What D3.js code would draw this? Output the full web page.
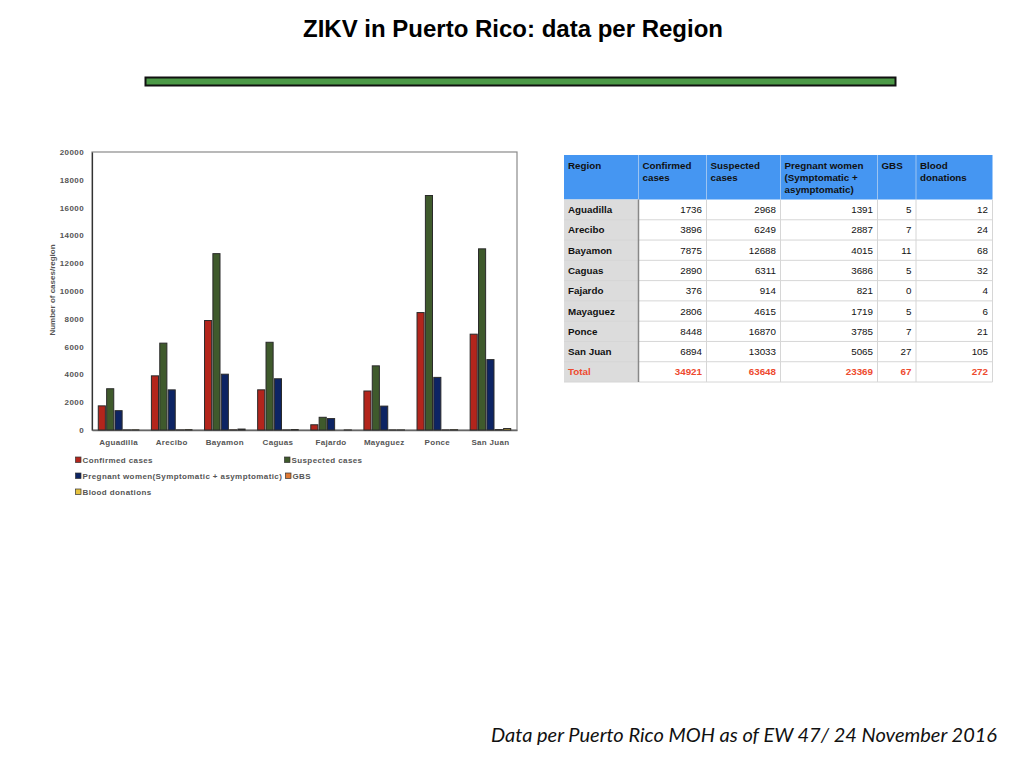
<!DOCTYPE html>
<html>
<head>
<meta charset="utf-8">
<script src="https://cdn.jsdelivr.net/npm/d3@7"></script>
<style>
  body { margin: 0; background: #fff; }
  svg { display: block; font-family: "Liberation Sans", Arial, sans-serif; }
</style>
</head>
<body>
<div id="chart"></div>
<script>
// Data (table values, also used for the bars)
const regions = ["Aguadilla", "Arecibo", "Bayamon", "Caguas", "Fajardo", "Mayaguez", "Ponce", "San Juan"];
const confirmed = [1736, 3896, 7875, 2890, 376, 2806, 8448, 6894];
const suspected = [2968, 6249, 12688, 6311, 914, 4615, 16870, 13033];
const pregnant = [1391, 2887, 4015, 3686, 821, 1719, 3785, 5065];
const gbs = [5, 7, 11, 5, 0, 5, 7, 27];
const blood = [12, 24, 68, 32, 4, 6, 21, 105];
const totals = [34921, 63648, 23369, 67, 272];
const seriesNames = ["Confirmed cases", "Suspected cases", "Pregnant women(Symptomatic + asymptomatic)", "GBS", "Blood donations"];
const tableHeaders = [["Region"], ["Confirmed", "cases"], ["Suspected", "cases"],
                      ["Pregnant women", "(Symptomatic +", "asymptomatic)"], ["GBS"], ["Blood", "donations"]];
const yTicks = [0, 2000, 4000, 6000, 8000, 10000, 12000, 14000, 16000, 18000, 20000];

const seriesValues = [confirmed, suspected, pregnant, gbs, blood];
const colors = ["#b3251c", "#3f5a2c", "#0d2463", "#e07a35", "#e6c23e"];

const W = 1024, H = 768;
const svg = d3.select("#chart").append("svg")
    .attr("width", W)
    .attr("height", H);

// Title + green rule
svg.append("text")
    .attr("x", 513)
    .attr("y", 37)
    .attr("text-anchor", "middle")
    .attr("font-size", "24px")
    .attr("font-weight", "bold")
    .attr("fill", "#000")
    .text("ZIKV in Puerto Rico: data per Region");

svg.append("rect")
    .attr("x", 145.5).attr("y", 77.5)
    .attr("width", 750).attr("height", 8)
    .attr("fill", "#4c9a47")
    .attr("stroke", "#111")
    .attr("stroke-width", 2);

// ---------- Bar chart ----------
const plot = {left: 92, right: 517, top: 152, bottom: 430};

const x0 = d3.scaleBand()
    .domain(regions)
    .range([plot.left, plot.right])
    .padding(0);

const x1 = d3.scaleBand()
    .domain(d3.range(seriesNames.length))
    .range([0, x0.bandwidth()])
    .paddingInner(0.15)
    .paddingOuter(0.75);

const y = d3.scaleLinear()
    .domain([0, 20000])
    .range([plot.bottom, plot.top]);

// frame
svg.append("rect")
    .attr("x", plot.left).attr("y", plot.top)
    .attr("width", plot.right - plot.left)
    .attr("height", plot.bottom - plot.top)
    .attr("fill", "none")
    .attr("stroke", "#8a8a8a")
    .attr("stroke-width", 1.2);

// y axis
const yAxis = svg.append("g")
    .attr("transform", `translate(${plot.left},0)`)
    .call(d3.axisLeft(y).tickValues(yTicks).tickSize(0).tickPadding(8).tickFormat(d3.format("d")));
yAxis.select(".domain").attr("stroke", "#333").attr("stroke-width", 1.2);
yAxis.selectAll("text")
    .attr("font-size", "8px")
    .attr("font-weight", "bold")
    .attr("fill", "#555")
    .attr("font-family", "Liberation Sans, Arial, sans-serif")
    .style("letter-spacing", "0.4px");

// x axis
const xAxis = svg.append("g")
    .attr("transform", `translate(0,${plot.bottom})`)
    .call(d3.axisBottom(x0).tickSize(0).tickPadding(9));
xAxis.select(".domain").attr("stroke", "#666").attr("stroke-width", 1.4);
xAxis.selectAll("text")
    .attr("font-size", "8px")
    .attr("font-weight", "bold")
    .attr("fill", "#555")
    .attr("font-family", "Liberation Sans, Arial, sans-serif")
    .style("letter-spacing", "0.3px");

// y axis title
svg.append("text")
    .attr("transform", "rotate(-90)")
    .attr("x", -290)
    .attr("y", 55)
    .attr("text-anchor", "middle")
    .attr("font-size", "8px")
    .attr("font-weight", "bold")
    .attr("fill", "#555")
    .text("Number of cases/region");

// bars
const barData = [];
regions.forEach((r, i) => {
    seriesValues.forEach((vals, s) => {
        barData.push({region: r, series: s, value: vals[i]});
    });
});

svg.append("g")
    .selectAll("rect")
    .data(barData.filter(d => d.value > 0))
    .join("rect")
    .attr("x", d => x0(d.region) + x1(d.series))
    .attr("y", d => y(d.value))
    .attr("width", x1.bandwidth())
    .attr("height", d => y(0) - y(d.value))
    .attr("fill", d => colors[d.series])
    .attr("stroke", "#2a2a2a")
    .attr("stroke-width", 1);

// legend
const legendPos = [[75, 460], [284, 460], [75, 476], [285, 476], [75, 492]];
const legend = svg.append("g");
seriesNames.forEach((name, i) => {
    const g = legend.append("g").attr("transform", `translate(${legendPos[i][0]},${legendPos[i][1]})`);
    g.append("rect")
        .attr("x", 0.5).attr("y", -3)
        .attr("width", 5.5).attr("height", 5.5)
        .attr("fill", colors[i])
        .attr("stroke", "#333")
        .attr("stroke-width", 0.7);
    g.append("text")
        .attr("x", 7.5)
        .attr("y", 3)
        .attr("font-size", "8px")
        .attr("font-weight", "bold")
        .attr("fill", "#555")
        .style("letter-spacing", "0.4px")
        .text(name);
});

// ---------- Table ----------
const colEdges = [564, 638.5, 706.5, 780.5, 877.5, 916, 992.5];
const headTop = 155, headBottom = 199.5;
const rowH = (382 - headBottom) / (regions.length + 1);
const tbl = svg.append("g");

// header
tbl.append("rect")
    .attr("x", colEdges[0]).attr("y", headTop)
    .attr("width", colEdges[6] - colEdges[0]).attr("height", headBottom - headTop)
    .attr("fill", "#4596f2");

// region column background
tbl.append("rect")
    .attr("x", colEdges[0]).attr("y", headBottom)
    .attr("width", colEdges[1] - colEdges[0]).attr("height", rowH * (regions.length + 1))
    .attr("fill", "#dcdcdc");

// grid lines
for (let r = 1; r <= regions.length + 1; r++) {
    tbl.append("line")
        .attr("x1", colEdges[0]).attr("x2", colEdges[6])
        .attr("y1", headBottom + r * rowH).attr("y2", headBottom + r * rowH)
        .attr("stroke", "#d6d6d6").attr("stroke-width", 1);
}
colEdges.slice(1, 6).forEach((cx, i) => {
    tbl.append("line")
        .attr("x1", cx).attr("x2", cx)
        .attr("y1", headTop).attr("y2", headBottom)
        .attr("stroke", "#9cc4f2").attr("stroke-width", 1);
    tbl.append("line")
        .attr("x1", cx).attr("x2", cx)
        .attr("y1", headBottom).attr("y2", headBottom + rowH * (regions.length + 1))
        .attr("stroke", i === 0 ? "#888" : "#d6d6d6")
        .attr("stroke-width", i === 0 ? 1.5 : 1);
});
tbl.append("line")
    .attr("x1", colEdges[6]).attr("x2", colEdges[6])
    .attr("y1", headBottom).attr("y2", headBottom + rowH * (regions.length + 1))
    .attr("stroke", "#d6d6d6");

// header text
tableHeaders.forEach((lines, c) => {
    lines.forEach((ln, k) => {
        tbl.append("text")
            .attr("x", colEdges[c] + 4)
            .attr("y", 169 + k * 12)
            .attr("font-size", "9.8px")
            .attr("font-weight", "bold")
            .attr("fill", "#111")
            .text(ln);
    });
});

// body rows
const rows = regions.map((r, i) => [r, confirmed[i], suspected[i], pregnant[i], gbs[i], blood[i]]);
rows.push(["Total"].concat(totals));
rows.forEach((row, r) => {
    const isTotal = r === rows.length - 1;
    const baseY = headBottom + r * rowH + rowH / 2 + 3.5;
    row.forEach((v, c) => {
        tbl.append("text")
            .attr("x", c === 0 ? colEdges[0] + 4 : colEdges[c + 1] - 4.5)
            .attr("y", baseY)
            .attr("text-anchor", c === 0 ? "start" : "end")
            .attr("font-size", "9.8px")
            .attr("font-weight", c === 0 || isTotal ? "bold" : "normal")
            .attr("fill", isTotal ? "#ee4a2e" : "#111")
            .text(v);
    });
});

// footnote
svg.append("text")
    .attr("x", 997)
    .attr("y", 742)
    .attr("text-anchor", "end")
    .attr("font-family", "Lato, 'Open Sans', sans-serif")
    .attr("font-style", "italic")
    .attr("font-size", "20px")
    .attr("fill", "#111")
    .text("Data per Puerto Rico MOH as of EW 47/ 24 November 2016");
</script>
</body>
</html>
